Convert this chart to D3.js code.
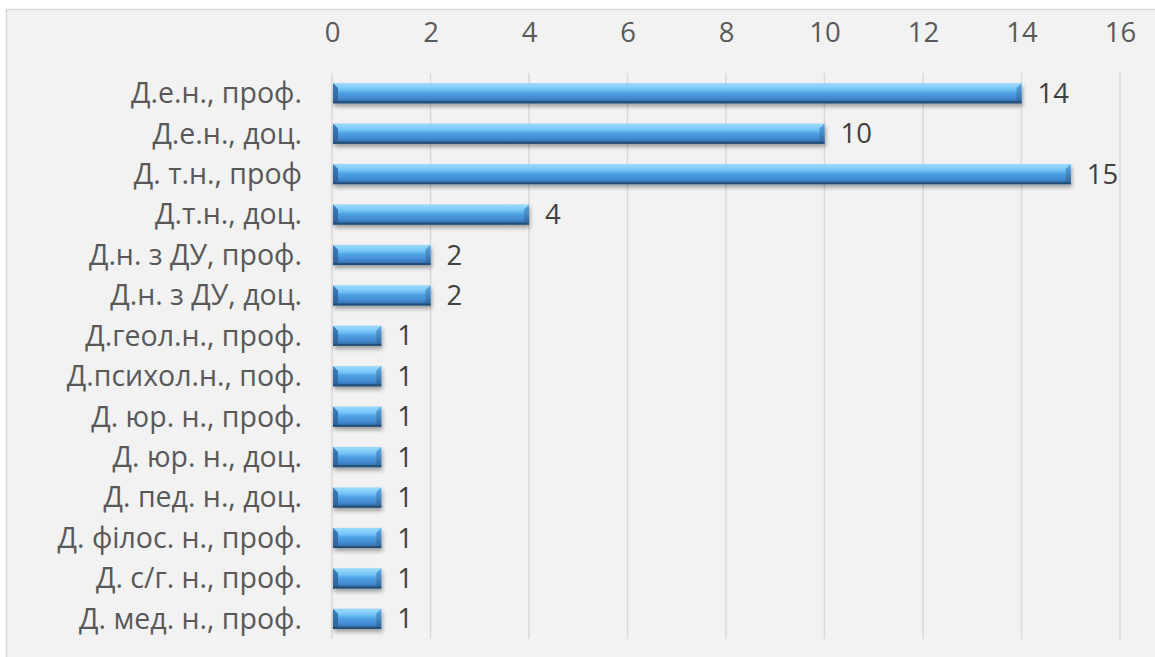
<!DOCTYPE html>
<html><head><meta charset="utf-8">
<script src="https://cdn.jsdelivr.net/npm/d3@7"></script>
<style>html,body{margin:0;padding:0;background:#fff;}svg{display:block;}</style>
</head><body>
<svg id="c" width="1155" height="657"></svg>
<script>
const categories = ["Д.е.н., проф.","Д.е.н., доц.","Д. т.н., проф","Д.т.н., доц.","Д.н. з ДУ, проф.","Д.н. з ДУ, доц.","Д.геол.н., проф.","Д.психол.н., поф.","Д. юр. н., проф.","Д. юр. н., доц. ","Д. пед. н., доц.","Д. філос. н., проф.","Д. с/г. н., проф.","Д. мед. н., проф."];
const values = [14,10,15,4,2,2,1,1,1,1,1,1,1,1];
const ticks = [0,2,4,6,8,10,12,14,16];

const svg = d3.select("#c");
const font = "'Open Sans', sans-serif";
svg.append("rect").attr("x",6.5).attr("y",9.5).attr("width",1160).attr("height",660)
  .attr("fill","#f2f2f2").attr("stroke","#d9d9d9").attr("stroke-width",1.5);

const x = d3.scaleLinear().domain([0,16]).range([332,1120]);
const y = d3.scaleBand().domain(categories).range([73,639]).paddingInner(0.5).paddingOuter(0.25);

const defs = svg.append("defs");
const g1 = defs.append("linearGradient").attr("id","bar").attr("x1",0).attr("x2",0).attr("y1",0).attr("y2",1);
[[0,"#9ad8fb"],[0.12,"#8fd4fb"],[0.32,"#72c2f5"],[0.47,"#50a2e4"],[0.75,"#4289d1"],[0.9,"#3672ad"],[1,"#2b5a88"]]
  .forEach(([o,c])=>g1.append("stop").attr("offset",o).attr("stop-color",c));
const g2 = defs.append("linearGradient").attr("id","bevL").attr("x1",0).attr("x2",0).attr("y1",0).attr("y2",1);
[[0,"#3d7fc0"],[1,"#2d5f92"]].forEach(([o,c])=>g2.append("stop").attr("offset",o).attr("stop-color",c));
const g3 = defs.append("linearGradient").attr("id","bevR").attr("x1",0).attr("x2",0).attr("y1",0).attr("y2",1);
[[0,"#5aaae8"],[1,"#2f6499"]].forEach(([o,c])=>g3.append("stop").attr("offset",o).attr("stop-color",c));
const f = defs.append("filter").attr("id","sh").attr("x","-10%").attr("y","-30%").attr("width","120%").attr("height","200%");
f.append("feGaussianBlur").attr("in","SourceAlpha").attr("stdDeviation",2).attr("result","b");
f.append("feOffset").attr("in","b").attr("dx",1).attr("dy",3).attr("result","o");
f.append("feComponentTransfer").attr("in","o").attr("result","s").append("feFuncA").attr("type","linear").attr("slope",0.35);
const m = f.append("feMerge"); m.append("feMergeNode").attr("in","s"); m.append("feMergeNode").attr("in","SourceGraphic");

// gridlines
const xAxis = d3.axisTop(x).tickValues(ticks).tickSize(0).tickPadding(0);
svg.append("g").selectAll("line").data(ticks).join("line")
  .attr("x1",d=>x(d)).attr("x2",d=>x(d)).attr("y1",73).attr("y2",639)
  .attr("stroke","#d9d9d9").attr("stroke-width",1.5);
const ax = svg.append("g").attr("transform","translate(0,42)").call(xAxis);
ax.select(".domain").remove();
ax.selectAll("text").attr("font-family",font).attr("font-size",27.5).attr("fill","#595959");

// category labels
svg.append("g").selectAll("text").data(categories).join("text")
  .attr("x",302).attr("y",d=>y(d)+y.bandwidth()/2).attr("dy","0.35em")
  .attr("text-anchor","end").attr("font-family",font).attr("font-size",28.5).attr("fill","#595959")
  .text(d=>d);

// bars
const bars = svg.append("g").selectAll("g").data(categories).join("g").attr("filter","url(#sh)");
bars.each(function(d,i){
  const g = d3.select(this);
  const x0 = x(0)+1, x1 = x(values[i]), y0 = y(d), h = y.bandwidth(), y1 = y0+h, b = 5;
  g.append("rect").attr("x",x0).attr("y",y0).attr("width",x1-x0).attr("height",h).attr("fill","url(#bar)");
  g.append("path").attr("d",`M${x0},${y0}L${x0+b},${y0+b}L${x0+b},${y1-2}L${x0},${y1}Z`).attr("fill","url(#bevL)");
  g.append("path").attr("d",`M${x1},${y0}L${x1-b},${y0+b}L${x1-b},${y1-2}L${x1},${y1}Z`).attr("fill","url(#bevR)");
  g.append("rect").attr("x",x0).attr("y",y1-2).attr("width",x1-x0).attr("height",2).attr("fill","#244f7a");
});

// value labels
svg.append("g").selectAll("text").data(categories).join("text")
  .attr("x",(d,i)=>x(values[i])+16).attr("y",d=>y(d)+y.bandwidth()/2).attr("dy","0.35em")
  .attr("font-family",font).attr("font-size",27.5).attr("fill","#404040")
  .text((d,i)=>values[i]);
</script>
</body></html>
